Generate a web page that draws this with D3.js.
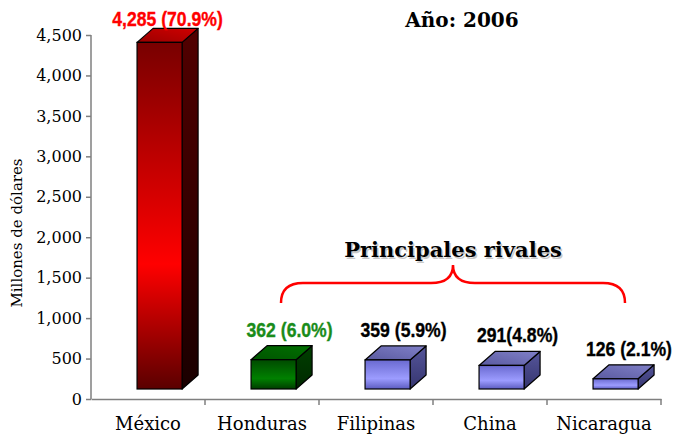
<!DOCTYPE html>
<html>
<head>
<meta charset="utf-8">
<script src="https://cdn.jsdelivr.net/npm/d3@7"></script>
<style>
  html, body { margin: 0; padding: 0; background: #fff; }
  svg { display: block; }
</style>
</head>
<body>
<div id="chart"></div>
<script>
// Exportaciones 2006 (millones de dólares) y participación
const categories = ["México", "Honduras", "Filipinas", "China", "Nicaragua"];
const values = [4285, 362, 359, 291, 126];
const shares = ["70.9", "6.0", "5.9", "4.8", "2.1"];
const labelSeparators = [" ", " ", " ", "", " "];
const palettes = ["red", "green", "blue", "blue", "blue"];
const labelColors = ["#ff0000", "#1a8c1a", "#000000", "#000000", "#000000"];
const yTicks = [0, 500, 1000, 1500, 2000, 2500, 3000, 3500, 4000, 4500];

const W = 673, H = 438;
const margin = { left: 91, right: 12, top: 35, bottom: 39 };

const svg = d3.select("#chart").append("svg")
  .attr("width", W).attr("height", H)
  .attr("viewBox", `0 0 ${W} ${H}`);

const x = d3.scaleBand().domain(categories).range([margin.left, W - margin.right]).padding(0);
const y = d3.scaleLinear().domain([0, 4500]).range([H - margin.bottom, margin.top]);

const fmt = d3.format(",");

// Gradient definitions for the 3D faces
const defs = svg.append("defs");
const colorSets = {
  red:   { front: ["#780000", "#ff0000", "#5a0000"], side: ["#520000", "#1a0000"], top: ["#9a0000", "#d00000"] },
  green: { front: ["#004a00", "#008000", "#003c00"], side: ["#004000", "#002800"], top: ["#005400", "#007000"] },
  blue:  { front: ["#6a6ad0", "#9c9cff", "#5c5cc0"], side: ["#55559a", "#363670"], top: ["#5a5aa0", "#8080c8"] }
};
Object.entries(colorSets).forEach(([name, c]) => {
  const gf = defs.append("linearGradient").attr("id", `front-${name}`)
    .attr("x1", 0).attr("y1", 0).attr("x2", 0).attr("y2", 1);
  gf.append("stop").attr("offset", "0%").attr("stop-color", c.front[0]);
  gf.append("stop").attr("offset", "64%").attr("stop-color", c.front[1]);
  gf.append("stop").attr("offset", "100%").attr("stop-color", c.front[2]);
  const gs = defs.append("linearGradient").attr("id", `side-${name}`)
    .attr("x1", 0).attr("y1", 0).attr("x2", 0).attr("y2", 1);
  gs.append("stop").attr("offset", "0%").attr("stop-color", c.side[0]);
  gs.append("stop").attr("offset", "100%").attr("stop-color", c.side[1]);
  const gt = defs.append("linearGradient").attr("id", `top-${name}`)
    .attr("x1", 0).attr("y1", 1).attr("x2", 1).attr("y2", 0);
  gt.append("stop").attr("offset", "0%").attr("stop-color", c.top[0]);
  gt.append("stop").attr("offset", "100%").attr("stop-color", c.top[1]);
});

// Axes
const axisColor = "#7f7f7f";
const yAxis = svg.append("g")
  .attr("transform", `translate(${margin.left},0)`)
  .call(d3.axisLeft(y).tickValues(yTicks).tickFormat(fmt).tickSize(5).tickPadding(4));
yAxis.select(".domain").attr("stroke", axisColor).attr("stroke-width", 1.5).attr("d", `M0,${y(4500)}V${y(0)}`);
yAxis.selectAll(".tick line").attr("stroke", axisColor).attr("stroke-width", 1.5);
yAxis.selectAll(".tick text")
  .attr("font-family", "'DejaVu Serif', serif").attr("font-size", 16).attr("fill", "#000");

const xAxis = svg.append("g")
  .attr("transform", `translate(0,${y(0)})`)
  .call(d3.axisBottom(x).tickSize(0).tickPadding(18));
xAxis.select(".domain").attr("stroke", axisColor).attr("stroke-width", 1.5);
xAxis.selectAll(".tick text")
  .attr("font-family", "'DejaVu Serif', serif").attr("font-size", 18).attr("fill", "#000");
// Category separators below the axis
const bounds = categories.map(c => x(c)).concat([x(categories[categories.length - 1]) + x.bandwidth()]);
svg.append("g").selectAll("line").data(bounds.slice(1)).join("line")
  .attr("x1", d => d).attr("x2", d => d)
  .attr("y1", y(0)).attr("y2", y(0) + 6)
  .attr("stroke", axisColor).attr("stroke-width", 1.5);

// Y-axis title
svg.append("text")
  .attr("transform", `translate(22,${(y(0) + y(4500)) / 2 + 16}) rotate(-90)`)
  .attr("text-anchor", "middle")
  .attr("font-family", "'DejaVu Serif', serif").attr("font-size", 15)
  .text("Millones de dólares");

// 3D columns
const bw = x.bandwidth();
const faceW = bw * 0.395;
const offX = bw * 0.404;   // front face offset inside band
const lift = 10;           // front face sits slightly above axis line
const dx = 16, dy = 14;    // depth of the column
const labelScaleX = 0.88;  // condensed look for the value labels

const bars = svg.append("g").selectAll("g").data(categories).join("g");
bars.each(function (c, i) {
  const g = d3.select(this);
  const p = palettes[i];
  const x0 = x(c) + offX, x1 = x0 + faceW;
  const yb = y(0) - lift, yt = y(values[i]) - lift;
  // side face
  g.append("path")
    .attr("d", `M${x1},${yt}L${x1 + dx},${yt - dy}L${x1 + dx},${yb - dy}L${x1},${yb}Z`)
    .attr("fill", `url(#side-${p})`).attr("stroke", "#000").attr("stroke-width", 1.2).attr("stroke-linejoin", "round");
  // top face
  g.append("path")
    .attr("d", `M${x0},${yt}L${x0 + dx},${yt - dy}L${x1 + dx},${yt - dy}L${x1},${yt}Z`)
    .attr("fill", `url(#top-${p})`).attr("stroke", "#000").attr("stroke-width", 1.2).attr("stroke-linejoin", "round");
  // front face
  g.append("rect")
    .attr("x", x0).attr("y", yt).attr("width", faceW).attr("height", yb - yt)
    .attr("fill", `url(#front-${p})`).attr("stroke", "#000").attr("stroke-width", 1.2);
  // value label (kept inside the drawing area)
  const lbl = g.append("g");
  const t = lbl.append("text")
    .attr("x", 0).attr("y", 0)
    .attr("text-anchor", "middle")
    .attr("font-family", "'Liberation Sans', Arial, sans-serif")
    .attr("font-weight", "bold").attr("font-size", 20)
    .attr("fill", labelColors[i])
    .attr("stroke", labelColors[i]).attr("stroke-width", 0.35)
    .text(`${fmt(values[i])}${labelSeparators[i]}(${shares[i]}%)`);
  const half = t.node().getComputedTextLength() * labelScaleX / 2;
  const cx = Math.min(x0 + faceW / 2 + (i === 0 ? 8 : 16), W - 1 - half);
  const cy = Math.max(yt - dy - 9, 26);
  lbl.attr("transform", `translate(${cx},${cy}) scale(${labelScaleX},1)`);
});

// Year title
svg.append("text")
  .attr("x", 462).attr("y", 27)
  .attr("text-anchor", "middle")
  .attr("font-family", "'DejaVu Serif', serif").attr("font-weight", "bold").attr("font-size", 20)
  .text("Año: 2006");

// Brace grouping the rivals
const bl = x("Honduras") + 76, br = x("Nicaragua") + 78, bm = (bl + br) / 2;
const yEnd = 303, yMid = 283, yCusp = 265, r = 22;
const brace = d3.path();
brace.moveTo(bl, yEnd);
brace.quadraticCurveTo(bl, yMid, bl + r, yMid);
brace.lineTo(bm - r, yMid);
brace.quadraticCurveTo(bm, yMid, bm, yCusp);
brace.quadraticCurveTo(bm, yMid, bm + r, yMid);
brace.lineTo(br - r, yMid);
brace.quadraticCurveTo(br, yMid, br, yEnd);
svg.append("path").attr("d", brace.toString())
  .attr("fill", "none").attr("stroke", "#ff0000").attr("stroke-width", 2.5);

const rivalTitle = svg.append("g");
rivalTitle.append("text")
  .attr("x", bm + 1.5).attr("y", 258.5)
  .attr("text-anchor", "middle")
  .attr("font-family", "'DejaVu Serif', serif").attr("font-weight", "bold").attr("font-size", 21)
  .attr("fill", "#c8c8c8")
  .text("Principales rivales");
rivalTitle.append("text")
  .attr("x", bm).attr("y", 257)
  .attr("text-anchor", "middle")
  .attr("font-family", "'DejaVu Serif', serif").attr("font-weight", "bold").attr("font-size", 21)
  .attr("fill", "#000")
  .text("Principales rivales");
</script>
</body>
</html>
